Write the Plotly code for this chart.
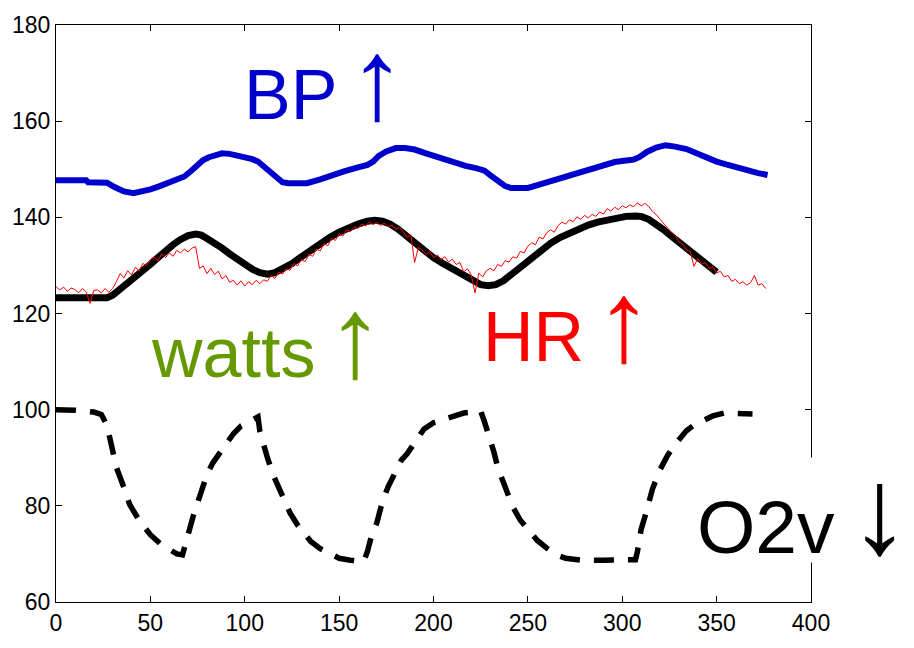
import plotly.graph_objects as go

# Blood pressure (thick blue trace)
bp_x = [0, 16, 17, 27, 31, 36, 41, 46, 50, 55, 60, 65, 68, 72, 75, 78, 81, 85, 88, 92,
        96, 100, 104, 107, 110, 113, 117, 120, 123, 128, 133, 140, 147, 153, 160, 165, 168, 171, 175, 180,
        185, 190, 196, 203, 210, 217, 223, 227, 230, 234, 238, 241, 245, 250, 256, 263, 270, 277, 284, 290,
        296, 302, 306, 309, 313, 318, 323, 328, 334, 340, 345, 350, 355, 361, 367, 372, 377]
bp_y = [147.7, 147.7, 147.3, 147.2, 146.3, 145.4, 145.0, 145.3, 145.8, 146.5, 147.2, 147.9, 148.5, 149.8, 151.0, 151.9, 152.5, 153.1, 153.3, 153.2,
        152.9, 152.6, 152.1, 151.6, 150.6, 149.4, 147.9, 147.3, 147.1, 147.1, 147.1, 147.9, 148.9, 149.6, 150.4, 150.9, 151.6, 152.8, 153.7, 154.4,
        154.4, 154.1, 153.3, 152.4, 151.6, 150.7, 150.2, 149.7, 148.8, 147.5, 146.5, 146.1, 146.1, 146.1, 146.8, 147.6, 148.5, 149.4, 150.3, 151.0,
        151.5, 151.8, 152.0, 152.5, 153.6, 154.5, 155.0, 154.7, 154.2, 153.2, 152.3, 151.6, 151.0, 150.3, 149.7, 149.2, 148.8]

# Work load (thick black smooth trace)
watts_x = [0, 10, 20, 27, 30, 34, 38, 42, 46, 50, 54, 58, 62, 66, 70, 74, 77, 80, 84, 88,
           92, 96, 100, 104, 108, 112, 116, 120, 125, 130, 135, 140, 145, 150, 155, 160, 165, 169, 173, 177,
           181, 185, 190, 195, 200, 205, 210, 215, 220, 225, 229, 233, 237, 242, 247, 252, 257, 262, 267, 272,
           277, 282, 287, 292, 297, 302, 307, 310, 314, 318, 322, 326, 330, 334, 338, 342, 346, 350]
watts_y = [123.3, 123.3, 123.3, 123.3, 123.8, 125.0, 126.2, 127.5, 128.9, 130.2, 131.6, 133.1, 134.3, 135.4, 136.2, 136.5, 136.3, 135.6, 134.7, 133.6,
           132.4, 131.2, 130.1, 129.2, 128.5, 128.2, 128.5, 129.2, 130.4, 131.8, 133.2, 134.5, 135.8, 136.9, 137.8, 138.6, 139.2, 139.4, 139.2, 138.6,
           137.6, 136.3, 134.6, 133.1, 131.6, 130.4, 129.4, 128.3, 127.1, 126.0, 125.8, 126.0, 126.8, 128.4, 130.2, 131.8, 133.2, 134.6, 135.8, 136.8,
           137.7, 138.4, 139.0, 139.5, 139.9, 140.2, 140.3, 140.2, 139.6, 138.6, 137.4, 136.1, 134.8, 133.5, 132.2, 131.0, 129.9, 128.6]

# Heart rate, sampled every 2 s (thin red trace)
hr_step = 2
hr_y = [
    125.6, 124.9, 125.5, 124.6, 125.3, 125.0, 124.3, 125.2, 124.5, 122.1,  # 0-18
    124.8, 124.9, 124.3, 125.2, 124.4, 125.2, 126.6, 128.3, 127.4, 128.9,  # 20-38
    128.0, 129.6, 128.9, 130.4, 130.0, 131.2, 131.8, 130.9, 132.4, 131.6,  # 40-58
    132.6, 131.9, 133.1, 132.6, 133.4, 132.8, 133.6, 133.9, 129.4, 129.9,  # 60-78
    128.3, 129.4, 128.1, 128.8, 127.2, 127.9, 126.5, 126.9, 125.9, 126.8,  # 80-98
    125.7, 126.6, 126.0, 126.9, 126.2, 127.0, 126.7, 127.9, 127.3, 128.6,  # 100-118
    128.2, 129.3, 129.0, 130.4, 129.9, 131.2, 130.8, 132.3, 131.9, 133.4,  # 120-138
    133.0, 134.5, 134.1, 135.6, 135.2, 136.6, 136.1, 137.4, 137.0, 138.0,  # 140-158
    137.7, 138.6, 138.2, 139.0, 138.5, 138.9, 138.3, 138.8, 138.0, 138.4,  # 160-178
    137.5, 137.9, 137.0, 135.8, 136.4, 130.6, 133.8, 133.2, 132.3, 132.9,  # 180-198
    131.6, 132.2, 131.2, 131.8, 130.7, 131.3, 130.2, 130.6, 128.7, 129.3,  # 200-218
    128.0, 124.3, 128.4, 127.6, 128.9, 129.4, 128.9, 130.2, 129.8, 131.0,  # 220-238
    130.7, 131.8, 131.5, 132.9, 132.6, 134.0, 134.7, 134.3, 135.9, 135.5,  # 240-258
    136.8, 137.4, 136.9, 138.3, 139.0, 138.6, 139.5, 139.1, 140.1, 139.6,  # 260-278
    140.4, 139.9, 140.6, 140.2, 141.1, 140.7, 141.8, 141.3, 142.1, 141.6,  # 280-298
    142.4, 142.0, 142.6, 142.2, 143.0, 142.4, 142.9, 142.3, 141.2, 140.6,  # 300-318
    139.6, 138.7, 137.9, 136.9, 136.3, 134.9, 134.5, 133.2, 132.9, 129.8,  # 320-338
    131.4, 130.3, 130.6, 129.4, 129.7, 128.4, 128.8, 127.6, 127.9, 126.7,  # 340-358
    127.1, 126.2, 126.6, 125.9, 126.4, 127.9, 125.9, 126.2, 125.2,         # 360-376
]
hr_x = [i * hr_step for i in range(len(hr_y))]

# Oxygen (dashed black trace)
o2_x = [0, 10, 20, 24, 27, 29, 32, 36, 39, 44, 50, 55, 60, 64, 67, 69, 71, 73, 76, 78,
        80, 83, 87, 90, 94, 98, 102, 107, 108, 110, 112, 115, 119, 124, 128, 131, 135, 140, 145, 150,
        156, 163, 165, 167, 170, 173, 176, 179, 183, 186, 190, 195, 200, 205, 210, 216, 221, 225, 227, 229,
        232, 234, 239, 242, 246, 250, 255, 260, 265, 270, 278, 290, 300, 307, 308, 310, 313, 316, 320, 324,
        328, 334, 338, 343, 348, 354, 362, 369]
o2_y = [100.0, 99.9, 99.5, 99.0, 96.8, 92.8, 88.0, 83.8, 80.3, 77.0, 74.0, 72.2, 70.8, 70.0, 69.8, 73.0, 76.0, 78.3, 81.8, 84.3,
        86.5, 88.9, 91.2, 93.0, 95.0, 96.6, 97.5, 98.5, 95.5, 92.5, 90.0, 86.5, 83.0, 78.5, 76.0, 74.4, 72.6, 71.1, 70.0, 69.1,
        68.7, 68.4, 70.5, 73.5, 76.5, 81.0, 84.0, 86.5, 89.5, 90.8, 93.3, 96.0, 97.3, 97.9, 98.8, 99.3, 99.5, 99.7, 97.5, 95.2,
        91.2, 88.0, 83.2, 79.8, 77.0, 75.1, 72.8, 71.2, 69.8, 69.1, 68.7, 68.7, 68.7, 68.8, 70.4, 75.1, 79.1, 83.5, 87.5, 90.5,
        92.8, 95.6, 96.8, 97.9, 98.7, 99.3, 99.3, 99.1]

x_ticks = [0, 50, 100, 150, 200, 250, 300, 350, 400]
y_ticks = [60, 80, 100, 120, 140, 160, 180]

FONT = "Liberation Sans, Arial, Helvetica, sans-serif"
BLUE = "#0000CC"
GREEN = "#669900"
RED = "#FF0000"

fig = go.Figure()
fig.add_trace(go.Scatter(x=bp_x, y=bp_y, mode="lines",
                         line=dict(color=BLUE, width=6)))
fig.add_trace(go.Scatter(x=watts_x, y=watts_y, mode="lines",
                         line=dict(color="black", width=7)))
fig.add_trace(go.Scatter(x=hr_x, y=hr_y, mode="lines",
                         line=dict(color=RED, width=1)))
fig.add_trace(go.Scatter(x=o2_x, y=o2_y, mode="lines",
                         line=dict(color="black", width=5.5, dash="20px,14px")))


def label_html(word, ch, size, gap):
    # word, a narrow space, then an enlarged arrow glyph
    return ('%s<span style="font-size:%dpx"> </span>'
            '<span style="font-size:%dpx">%s</span>') % (word, gap, int(size * 1.65), ch)


labels = [
    dict(word="BP", ch="\u2191", x=97.2, y=168.8, color=BLUE, size=70, gap=40, bg=None, h=None),
    dict(word="watts", ch="\u2191", x=47.8, y=115.2, color=GREEN, size=70, gap=40, bg=None, h=None),
    dict(word="HR", ch="\u2191", x=223.7, y=118.4, color=RED, size=70, gap=40, bg=None, h=None),
    dict(word="O2v", ch="\u2193", x=336.8, y=79.1, color="black", size=75, gap=52, bg="white", h=96),
]
for lab in labels:
    extra = {"height": lab["h"]} if lab["h"] else {}
    fig.add_annotation(
        x=lab["x"], y=lab["y"], xref="x", yref="y",
        text=label_html(lab["word"], lab["ch"], lab["size"], lab["gap"]),
        showarrow=False,
        xanchor="left", yanchor="middle",
        font=dict(family=FONT, size=lab["size"], color=lab["color"]),
        bgcolor=lab["bg"] if lab["bg"] else "rgba(0,0,0,0)",
        borderpad=4,
        **extra,
    )

axis_common = dict(
    showline=True, linecolor="black", linewidth=1, mirror="ticks",
    ticks="inside", ticklen=6, tickwidth=1, tickcolor="black",
    showgrid=False, zeroline=False,
    tickfont=dict(family=FONT, size=23, color="black"),
)

fig.update_layout(
    width=914, height=648,
    margin=dict(l=56, r=103, t=19, b=33),
    paper_bgcolor="white", plot_bgcolor="white",
    showlegend=False,
    xaxis=dict(range=[0, 400], tickvals=x_ticks, **axis_common),
    yaxis=dict(range=[60, 180], tickvals=y_ticks, **axis_common),
)

fig.write_html("out.html")
